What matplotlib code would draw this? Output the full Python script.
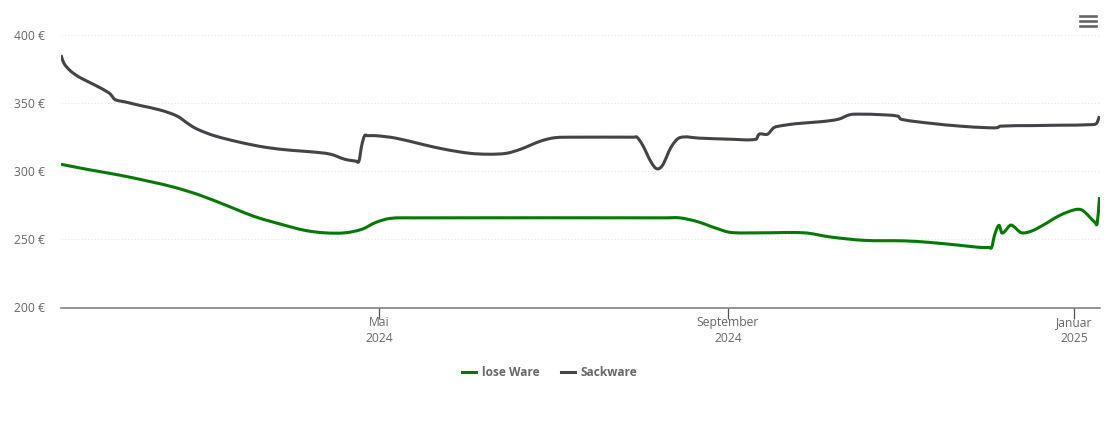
import matplotlib
matplotlib.use("Agg")
import matplotlib.dates as mdates
import matplotlib.pyplot as plt
from matplotlib.lines import Line2D
from matplotlib.patches import PathPatch
from matplotlib.path import Path
import numpy as np
import pandas as pd

plt.rcParams["font.family"] = ["Open Sans", "DejaVu Sans"]

sack_dates = [
    "2024-01-10", "2024-01-11", "2024-01-13", "2024-01-15", "2024-01-17", "2024-01-22", "2024-01-27", "2024-01-28",
    "2024-01-29", "2024-02-02", "2024-02-07", "2024-02-14", "2024-02-20", "2024-02-24", "2024-02-27", "2024-03-04",
    "2024-03-13", "2024-03-22", "2024-03-31", "2024-04-07", "2024-04-14", "2024-04-19", "2024-04-23", "2024-04-24",
    "2024-04-25", "2024-04-26", "2024-04-27", "2024-04-30", "2024-05-07", "2024-05-16", "2024-05-24", "2024-06-02", "2024-06-09",
    "2024-06-15", "2024-06-20", "2024-06-27", "2024-07-02", "2024-07-09", "2024-07-30", "2024-07-31", "2024-08-02", "2024-08-05",
    "2024-08-07", "2024-08-09", "2024-08-12", "2024-08-15", "2024-08-22", "2024-09-02", "2024-09-11", "2024-09-12",
    "2024-09-15", "2024-09-17", "2024-09-18", "2024-09-25", "2024-10-04", "2024-10-10", "2024-10-14", "2024-10-18",
    "2024-10-25", "2024-10-31", "2024-11-01", "2024-11-11", "2024-11-22", "2024-12-01", "2024-12-05", "2024-12-06",
    "2024-12-17", "2024-12-27", "2025-01-07", "2025-01-09", "2025-01-10",
]
sack_prices = [
    385.3, 379.4, 374.3, 371, 368.4, 363.2, 357.4, 355.1,
    352.6, 350.7, 348.2, 344.9, 340.4, 334.6, 330.9, 326.1,
    321.3, 317.6, 315.4, 314.3, 312.5, 308.8, 307.4, 307.4,
    319.1, 326.1, 326.1, 326.1, 324.3, 319.9, 316.2, 313.2, 312.5,
    313.2, 316.2, 322.1, 324.6, 325, 325, 325, 319.1, 306.6,
    301.8, 304.4, 317.6, 324.6, 324.3, 323.5, 323.5, 327.2,
    327.2, 331.6, 332.7, 334.9, 336.4, 338.2, 341.5, 341.9,
    341.5, 340.4, 338.2, 335.3, 333.1, 332, 332, 333.1,
    333.5, 333.8, 334.2, 335.3, 340.4,
]

lose_dates = [
    "2024-01-10", "2024-01-20", "2024-01-31", "2024-02-10", "2024-02-19", "2024-02-28", "2024-03-10", "2024-03-18",
    "2024-03-27", "2024-04-05", "2024-04-12", "2024-04-19", "2024-04-25", "2024-04-30", "2024-05-05", "2024-05-13",
    "2024-08-10", "2024-08-15", "2024-08-21", "2024-08-28", "2024-09-02", "2024-09-12", "2024-09-28", "2024-10-07", "2024-10-19",
    "2024-11-02", "2024-11-11", "2024-11-22", "2024-11-29", "2024-12-02", "2024-12-03", "2024-12-04", "2024-12-05 14:00", "2024-12-06 16:00",
    "2024-12-09 12:00", "2024-12-10 14:00", "2024-12-13 10:00", "2024-12-17", "2024-12-21", "2024-12-27", "2025-01-01 10:00", "2025-01-04",
    "2025-01-08 12:00", "2025-01-09 05:00", "2025-01-10",
]
lose_prices = [
    305.1, 301.1, 297, 292.6, 288.2, 282.4, 273.5, 266.9,
    261.4, 256.6, 254.8, 254.8, 257.4, 262.5, 265.4, 265.8,
    265.8, 265.8, 263.2, 258.1, 255.1, 254.8, 254.8, 251.8, 249.3,
    248.9, 247.8, 245.6, 244.1, 244.1, 244.1, 253, 260.3, 254.6,
    260.3, 259.8, 254.9, 256.1, 260.3, 267.6, 271.8, 271.3,
    262.3, 262, 281,
]

y_ticks = [200, 250, 300, 350, 400]
x_ticks = ["2024-05-01", "2024-09-01", "2025-01-01"]
x_labels = ["Mai\n2024", "September\n2024", "Januar\n2025"]

GREEN = "#047a04"
DARK = "#434348"
TEXT = "#666666"
LINE_W = 2.2


def spline_path(dates, values):
    # same look as the original spline series: bezier through every point
    x = mdates.date2num(pd.to_datetime(dates, format="ISO8601"))
    y = np.array(values, dtype=float)
    slope = np.gradient(y, x, edge_order=1)
    slope[1:-1] = (y[2:] - y[:-2]) / (x[2:] - x[:-2])
    verts = [(x[0], y[0])]
    codes = [Path.MOVETO]
    for i in range(len(x) - 1):
        dx = (x[i + 1] - x[i]) / 3
        verts += [(x[i] + dx, y[i] + slope[i] * dx), (x[i + 1] - dx, y[i + 1] - slope[i + 1] * dx), (x[i + 1], y[i + 1])]
        codes += [Path.CURVE4] * 3
    return Path(verts, codes)


fig = plt.figure(figsize=(11.1, 4.22), dpi=100)
ax = fig.add_axes([61 / 1110, 1 - 307.5 / 422, 1038.5 / 1110, 272.5 / 422])

ax.add_patch(PathPatch(spline_path(lose_dates, lose_prices), fc="none", ec=GREEN, lw=LINE_W, joinstyle="round", capstyle="butt"))
ax.add_patch(PathPatch(spline_path(sack_dates, sack_prices), fc="none", ec=DARK, lw=LINE_W, joinstyle="round", capstyle="butt"))

ax.set_xlim(pd.Timestamp("2024-01-10"), pd.Timestamp("2025-01-10"))
ax.set_ylim(200, 400)

ax.set_yticks(y_ticks)
ax.set_yticklabels([f"{v} €" for v in y_ticks])
ax.set_xticks(pd.to_datetime(x_ticks))
ax.set_xticklabels(x_labels, linespacing=1.3)
ax.tick_params(axis="y", length=0, pad=11.5, labelsize=8.7, labelcolor=TEXT)
ax.tick_params(axis="x", length=8, width=0.9, color="#555555", pad=-2, labelsize=8.7, labelcolor=TEXT)

ax.grid(axis="y", color="#e6e6e6", lw=0.8, ls=(0, (1, 2)))
ax.set_axisbelow(True)
for side in ["top", "left", "right"]:
    ax.spines[side].set_visible(False)
ax.spines["bottom"].set_color("#777777")
ax.spines["bottom"].set_linewidth(1.1)

handles = [Line2D([], [], color=GREEN, lw=LINE_W), Line2D([], [], color=DARK, lw=LINE_W)]
leg = fig.legend(
    handles, ["lose Ware", "Sackware"],
    loc="center", bbox_to_anchor=(550 / 1110, 1 - 372.5 / 422), ncol=2, frameon=False,
    prop={"size": 8.6, "weight": "bold"}, handlelength=1.17, handletextpad=0.5, columnspacing=1.75,
)
for txt in leg.get_texts():
    txt.set_color(TEXT)

# burger menu top right
for y in [16, 21, 26]:
    fig.add_artist(Line2D([1080 / 1110, 1096 / 1110], [1 - y / 422, 1 - y / 422], color="#666666", lw=1.9))

fig.savefig("out.png", dpi=100)
